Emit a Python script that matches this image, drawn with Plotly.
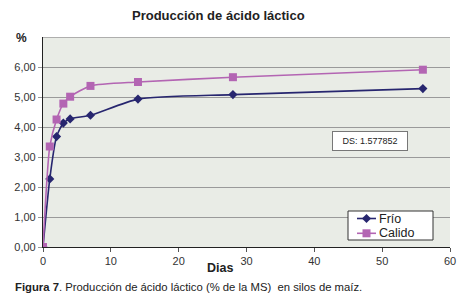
import plotly.graph_objects as go

dias = [0, 1, 2, 3, 4, 7, 14, 28, 56]
frio = [0.00, 2.27, 3.68, 4.13, 4.27, 4.39, 4.93, 5.08, 5.28]
calido = [0.00, 3.35, 4.25, 4.78, 5.01, 5.37, 5.50, 5.66, 5.91]
series_names = ["Frío", "Calido"]
y_ticks = [0, 1, 2, 3, 4, 5, 6]
y_labels = ["0,00", "1,00", "2,00", "3,00", "4,00", "5,00", "6,00"]
x_ticks = [0, 10, 20, 30, 40, 50, 60]

FONT = "Liberation Sans, Arial, sans-serif"
W, H = 467, 299
ML, MR, MT, MB = 43, 17, 37, 52
PW, PH = W - ML - MR, H - MT - MB
X_MAX, Y_MAX = 60, 7
C_FRIO = "#27266f"
C_CAL = "#b365b3"

def px(x):
    return (x - ML) / PW

def py(y):
    return (H - y - MB) / PH

fig = go.Figure()
fig.add_trace(go.Scatter(
    x=dias, y=frio, name=series_names[0], mode="lines+markers",
    line=dict(color=C_FRIO, width=1.6, shape="spline", smoothing=0.6),
    marker=dict(symbol="diamond", size=7, color=C_FRIO),
    showlegend=False,
))
fig.add_trace(go.Scatter(
    x=dias, y=calido, name=series_names[1], mode="lines+markers",
    line=dict(color=C_CAL, width=1.6, shape="spline", smoothing=0.6),
    marker=dict(symbol="square", size=8, color=C_CAL),
    showlegend=False,
))

# legend box drawn in pixel space on an overlay axis
LX0, LX1, LY0, LY1 = 348, 433, 211, 240
rows = [(218.5, C_FRIO, "diamond", 7, series_names[0]),
        (233.3, C_CAL, "square", 8, series_names[1])]
for yy, col, sym, sz, name in rows:
    fig.add_trace(go.Scatter(
        x=[357, 376], y=[yy, yy], mode="lines", xaxis="x2", yaxis="y2",
        line=dict(color=col, width=1.6), showlegend=False, hoverinfo="skip",
    ))
    fig.add_trace(go.Scatter(
        x=[366.5], y=[yy], mode="markers", xaxis="x2", yaxis="y2",
        marker=dict(symbol=sym, size=sz, color=col), showlegend=False,
        hoverinfo="skip",
    ))

fig.update_layout(
    width=W, height=H,
    margin=dict(l=ML, r=MR, t=MT, b=MB, autoexpand=False),
    paper_bgcolor="white",
    plot_bgcolor="#e9ece6",
    font=dict(family=FONT, size=11, color="#222"),
    showlegend=False,
    xaxis=dict(range=[0, X_MAX], tickvals=x_ticks, showgrid=False, zeroline=False,
               showline=True, linecolor="#222", linewidth=1.2,
               ticks="outside", ticklen=4, tickcolor="#555",
               tickfont=dict(family=FONT, size=11, color="#333"),
               fixedrange=True, automargin=False),
    yaxis=dict(range=[0, Y_MAX], tickvals=y_ticks, ticktext=y_labels,
               showgrid=True, gridcolor="#9a9a9a", gridwidth=1, zeroline=False,
               showline=True, linecolor="#222", linewidth=1.2,
               ticks="outside", ticklen=4, tickcolor="#9a9a9a",
               tickfont=dict(family=FONT, size=11, color="#333"),
               fixedrange=True, automargin=False),
    xaxis2=dict(range=[ML, W - MR], overlaying="x", visible=False,
                fixedrange=True),
    yaxis2=dict(range=[H - MB, MT], overlaying="y", visible=False,
                fixedrange=True),
)

def dx(p):
    return (p - ML) / PW * X_MAX

def dy(p):
    return (H - MB - p) / PH * Y_MAX

fig.add_shape(type="rect", xref="x", yref="y",
              x0=dx(LX0), x1=dx(LX1), y0=dy(LY0), y1=dy(LY1),
              fillcolor="white", line=dict(color="#333", width=1),
              layer="between")

# top gridline at 7
fig.add_hline(y=Y_MAX, line=dict(color="#9a9a9a", width=1.5))

anns = [
    dict(text="<b>Producción de ácido láctico</b>", x=218.5, y=16,
         font=dict(size=13, color="#222")),
    dict(text="<b>%</b>", x=21, y=38, font=dict(size=12, color="#222")),
    dict(text="<b>Dias</b>", x=220, y=268, font=dict(size=12.5, color="#222")),
    dict(text="<b>Figura 7</b>. Producción de ácido láctico (% de la MS)  en silos de maíz.",
         x=13, y=287, xanchor="left", font=dict(size=11.3, color="#222")),
    dict(text=series_names[0], x=377, y=218.5, xanchor="left",
         font=dict(size=12.5, color="#222")),
    dict(text=series_names[1], x=377, y=233.3, xanchor="left",
         font=dict(size=12.5, color="#222")),
]
for a in anns:
    fig.add_annotation(
        text=a["text"], showarrow=False,
        xref="paper", yref="paper",
        x=px(a["x"]), y=py(a["y"]),
        xanchor=a.get("xanchor", "center"), yanchor="middle",
        font=dict(family=FONT, **a["font"]),
    )

# DS box
fig.add_annotation(
    text="DS: 1.577852", showarrow=False, xref="paper", yref="paper",
    x=px(370), y=py(141),
    xanchor="center", yanchor="middle",
    font=dict(family=FONT, size=9, color="#222"),
    bgcolor="white", bordercolor="#777", borderwidth=1,
    width=72, height=16,
)

fig.write_html(
    "out.html",
    config={"displayModeBar": False},
    post_script="document.body.style.margin='0';document.body.style.overflow='hidden';",
)
